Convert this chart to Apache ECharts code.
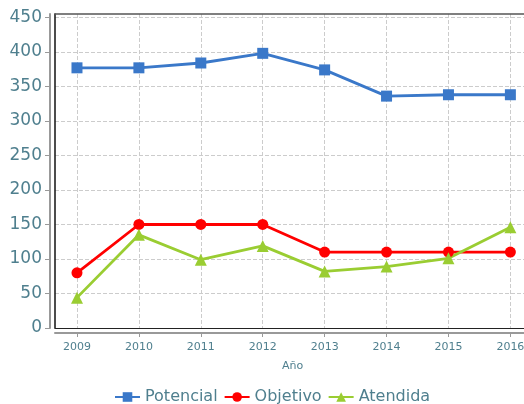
<!DOCTYPE html>
<html>
<head>
<meta charset="utf-8">
<script src="https://cdn.jsdelivr.net/npm/echarts@6/dist/echarts.min.js"></script>
<style>
  html, body { margin: 0; padding: 0; background: #fff; }
  #chart { width: 524px; height: 404px; }
</style>
</head>
<body>
<div id="chart"></div>
<script>
// Datos del gráfico
const anios = [2009, 2010, 2011, 2012, 2013, 2014, 2015, 2016];
const potencial = [377, 377, 384, 398, 374, 336, 338, 338];
const objetivo = [80, 150, 150, 150, 110, 110, 110, 110];
const atendida = [44, 135, 99, 119, 82, 89, 101, 146];
const ticksY = [0, 50, 100, 150, 200, 250, 300, 350, 400, 450];

const colorTexto = '#4f7f8e';
const X_MIN = 2008.645, X_MAX = 2016.64;

function pares(valores) {
    return anios.map((a, i) => [a, valores[i]]);
}

function serie(nombre, valores, color, simbolo, tam) {
    return {
        name: nombre,
        type: 'line',
        data: pares(valores),
        symbol: simbolo,
        symbolSize: tam,
        lineStyle: { color: color, width: 2.8 },
        itemStyle: { color: color },
        emphasis: { disabled: true }
    };
}

// Eje solo con línea: sirve de borde del área de trazado
function borde(extra) {
    return Object.assign({
        type: 'value',
        axisLine: { show: true, onZero: false, lineStyle: { color: '#222', width: 1 } },
        axisTick: { show: false },
        axisLabel: { show: false },
        splitLine: { show: false }
    }, extra);
}

const dom = document.getElementById('chart');
const myChart = echarts.init(dom);

myChart.setOption({
    animation: false,
    grid: {
        left: 55,
        top: 14,
        width: 495,
        bottom: 76,
        outerBoundsMode: 'none',
        show: false
    },
    legend: {
        bottom: -6,
        left: 109,
        itemWidth: 25,
        itemHeight: 12,
        itemGap: 6,
        textStyle: { color: colorTexto, fontSize: 16, fontFamily: 'DejaVu Sans' },
        data: ['Potencial', 'Objetivo', 'Atendida']
    },
    xAxis: [{
        type: 'value',
        min: X_MIN,
        max: X_MAX,
        position: 'bottom',
        offset: 5,
        name: 'Año',
        nameLocation: 'middle',
        nameGap: 28,
        nameTextStyle: { color: colorTexto, fontSize: 11, fontFamily: 'DejaVu Sans', padding: [0, 20, 0, 0] },
        axisLine: { show: true, onZero: false, lineStyle: { color: '#999', width: 2 } },
        axisTick: { show: true, customValues: anios, length: 4, lineStyle: { color: '#999' } },
        axisLabel: {
            customValues: anios,
            color: colorTexto,
            fontSize: 11,
            fontFamily: 'DejaVu Sans',
            margin: 9,
            formatter: v => String(v)
        },
        splitLine: { show: true, lineStyle: { color: '#ccc', type: 'dashed' } }
    },
    borde({ min: X_MIN, max: X_MAX, position: 'top', offset: 0, axisLine: { show: true, onZero: false, lineStyle: { color: '#555', width: 1.5 } } }),
    borde({ min: X_MIN, max: X_MAX, position: 'bottom', offset: 0 })
    ],
    yAxis: [{
        type: 'value',
        min: 0,
        max: 455,
        position: 'left',
        offset: 5,
        axisLine: { show: true, onZero: false, lineStyle: { color: '#999', width: 2 } },
        axisTick: { show: true, customValues: ticksY, length: 5, lineStyle: { color: '#999' } },
        axisLabel: {
            customValues: ticksY,
            color: colorTexto,
            fontSize: 17,
            fontFamily: 'DejaVu Sans',
            margin: 8
        },
        splitLine: { show: true, lineStyle: { color: '#ccc', type: 'dashed' } }
    },
    borde({ min: 0, max: 455, position: 'left', offset: 0, axisLine: { show: true, onZero: false, lineStyle: { color: '#111', width: 1.5 } } })
    ],
    series: [
        serie('Potencial', potencial, '#3a78c9', 'rect', 11),
        serie('Objetivo', objetivo, '#ff0000', 'circle', 11),
        serie('Atendida', atendida, '#9acd32', 'triangle', 12)
    ]
});
</script>
</body>
</html>
